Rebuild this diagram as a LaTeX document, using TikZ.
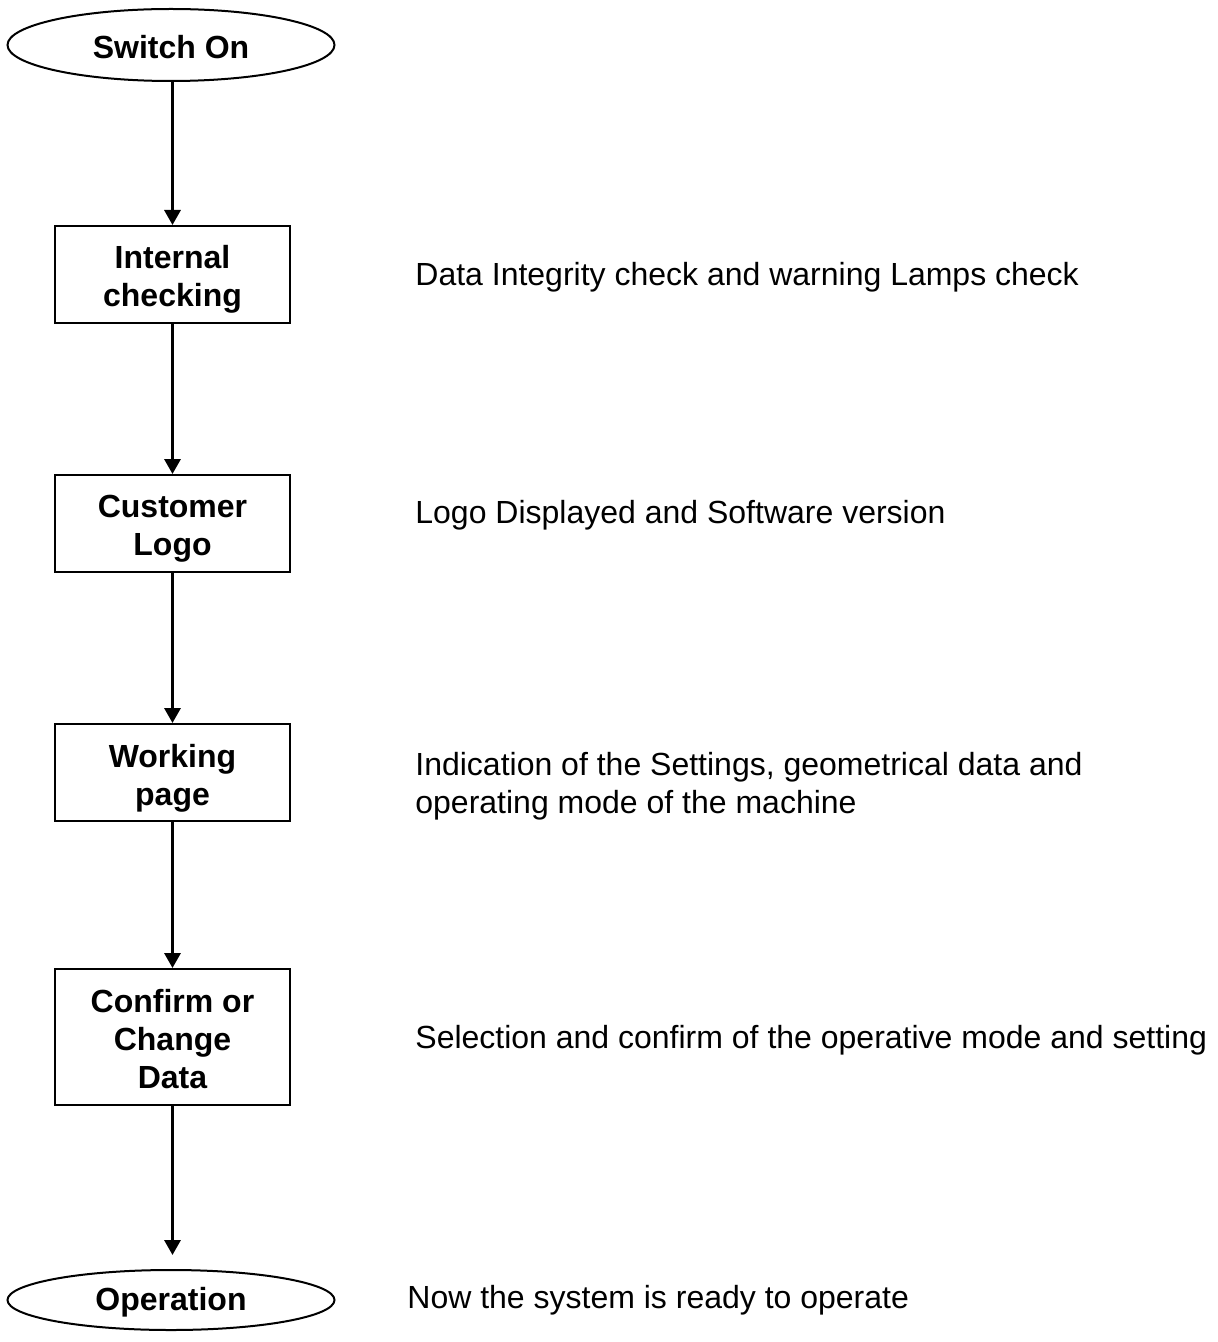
\documentclass[tikz,border=0pt]{standalone}
\usepackage{fontspec}
\setmainfont{Liberation Sans}
\usetikzlibrary{arrows.meta,shapes.geometric}
\newcommand{\topstrut}[1]{\rule{0pt}{#1}}
\begin{document}
\begin{tikzpicture}[x=0.5pt,y=-0.5pt,
  stepbox/.style={draw,line width=1pt,minimum width=117.5pt,minimum height=48.5pt,inner sep=0pt,align=center,font=\fontsize{16}{19}\selectfont\bfseries},
  term/.style={draw,ellipse,line width=1pt,minimum width=163.5pt,inner sep=0pt,font=\fontsize{16}{19}\selectfont\bfseries},
  note/.style={anchor=west,align=left,inner sep=0pt,font=\fontsize{16}{19}\selectfont},
  flow/.style={line width=1.6pt,-{Triangle[width=8pt,length=7.5pt]}}]
\useasboundingbox (0,0) rectangle (1217,1342);
\node[term,minimum height=36pt] (on) at (171,45) {\topstrut{13.5pt}Switch On};
\node[stepbox] (ic) at (172.5,274.5) {\topstrut{16.5pt}Internal\\checking};
\node[stepbox] (cl) at (172.5,523.5) {\topstrut{16.5pt}Customer\\Logo};
\node[stepbox] (wp) at (172.5,772.5) {\topstrut{17pt}Working\\page};
\node[stepbox,minimum height=68pt] (cc) at (172.5,1037) {\topstrut{14pt}Confirm or\\Change\\Data};
\node[term,minimum height=30pt] (op) at (171,1300) {\topstrut{14pt}Operation};
\coordinate (opin) at (172.5,1255);
\draw[flow] (on.south -| ic.north) -- (ic.north);
\draw[flow] (ic.south) -- (cl.north);
\draw[flow] (cl.south) -- (wp.north);
\draw[flow] (wp.south) -- (cc.north);
\draw[flow] (cc.south) -- (opin);
\node[note] (n1) at (415,277) {Data Integrity check and warning Lamps check};
\node[note] (n2) at (415,515) {Logo Displayed and Software version};
\node[note] (n3) at (415,786) {Indication of the Settings, geometrical data and\\operating mode of the machine};
\node[note] (n4) at (415,1040) {Selection and confirm of the operative mode and setting};
\node[note] (n5) at (407,1300) {Now the system is ready to operate};
\end{tikzpicture}
\end{document}
